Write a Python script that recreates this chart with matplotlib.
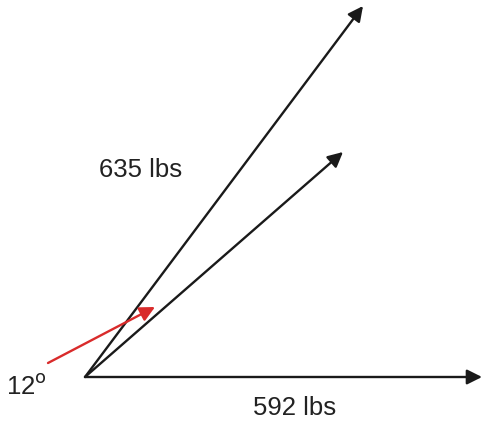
"""Force diagram: two forces from a common origin, with the angle marked."""

import matplotlib.pyplot as plt

plt.rcParams["font.family"] = ["Liberation Sans", "DejaVu Sans"]

# Points of the drawing, in picture coordinates (y grows downward).
origin = (85, 377)
vector_tips = [(363, 6), (343, 152), (482, 377)]
angle_pointer = [(48, 363), (155, 307)]

labels = ["635 lbs", "592 lbs", "12$^{\\mathrm{o}}$"]
label_pos = [(141, 170), (295, 408), (26, 387)]

fig = plt.figure(figsize=(4.83, 4.23), dpi=100)
ax = fig.add_axes([0, 0, 1, 1])
ax.set_xlim(0, 483)
ax.set_ylim(423, 0)
ax.set_axis_off()

black_arrow = dict(arrowstyle="-|>,head_length=0.9,head_width=0.45",
                   color="#1a1a1a", lw=1.7, shrinkA=0, shrinkB=0)
for tip in vector_tips:
    ax.annotate("", xy=tip, xytext=origin, arrowprops=black_arrow)

ax.annotate("", xy=angle_pointer[1], xytext=angle_pointer[0],
            arrowprops=dict(arrowstyle="-|>,head_length=0.9,head_width=0.45",
                            color="#d92b2b", lw=1.7, shrinkA=0, shrinkB=0))

for text, (x, y) in zip(labels, label_pos):
    ax.text(x, y, text, fontsize=18.5, color="#222222", ha="center", va="center")

fig.savefig("out.png", dpi=100)
